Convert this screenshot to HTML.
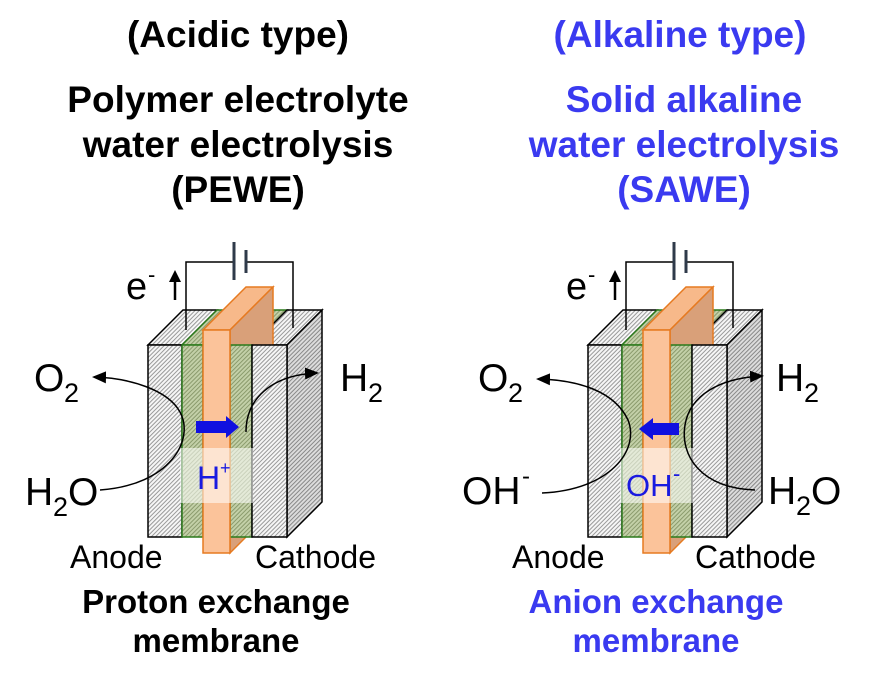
<!DOCTYPE html>
<html><head><meta charset="utf-8"><style>
html,body{margin:0;padding:0;background:#fff;}
svg{display:block;}
text{font-family:"Liberation Sans",Arial,sans-serif;}
.t{font-weight:bold;font-size:37px;text-anchor:middle;}
.b{font-weight:bold;font-size:33px;text-anchor:middle;}
.lb{font-size:32px;}
.big{font-size:39px;}
.sub{font-size:27px;}
</style></head><body>
<svg width="872" height="683" viewBox="0 0 872 683" xmlns="http://www.w3.org/2000/svg">
<defs>
<pattern id="h" width="3" height="3" patternUnits="userSpaceOnUse" patternTransform="rotate(45)">
<rect width="3" height="3" fill="#f6f6f6"/><rect width="1" height="3" fill="#999"/></pattern>
<pattern id="hd" width="3" height="3" patternUnits="userSpaceOnUse" patternTransform="rotate(45)">
<rect width="3" height="3" fill="#dcdcdc"/><rect width="1" height="3" fill="#888"/></pattern>
<pattern id="g" width="3" height="3" patternUnits="userSpaceOnUse" patternTransform="rotate(45)">
<rect width="3" height="3" fill="#c3d0a8"/><rect width="1" height="3" fill="#8a9a6c"/></pattern>
<marker id="ar" markerWidth="14" markerHeight="14" refX="12" refY="7" orient="auto" markerUnits="userSpaceOnUse">
<path d="M0,1 L14,7 L0,13 z" fill="#000"/></marker>
<g id="cell">
<polygon points="148,345 182,345 217,310 183,310" fill="url(#h)" stroke="#000" stroke-width="1.5"/>
<polygon points="182,345 203,345 238,310 217,310" fill="url(#g)" stroke="#2a7a1a" stroke-width="1.5"/>
<polygon points="230,345 252,345 287,310 265,310" fill="url(#g)" stroke="#2a7a1a" stroke-width="1.5"/>
<polygon points="252,345 287,345 322,310 287,310" fill="url(#h)" stroke="#000" stroke-width="1.5"/>
<polygon points="287,345 322,310 322,502 287,537" fill="url(#hd)" stroke="#000" stroke-width="1.5"/>
<polyline points="186,330 186,262 233,262" fill="none" stroke="#000" stroke-width="1.5"/>
<polyline points="247,262 293,262 293,328" fill="none" stroke="#000" stroke-width="1.5"/>
<line x1="234" y1="242" x2="234" y2="280" stroke="#2f3a4a" stroke-width="3"/>
<line x1="246" y1="250" x2="246" y2="273" stroke="#2f3a4a" stroke-width="3"/>
<polygon points="203,330 230,330 273,287 246,287" fill="#f7b98a" stroke="#e67a20" stroke-width="1.5"/>
<polygon points="230,330 273,287 273,510 230,553" fill="#d9a079" stroke="#e67a20" stroke-width="1.5"/>
<rect x="230" y="345" width="22" height="192" fill="url(#g)" stroke="#2a7a1a" stroke-width="1.5"/>
<rect x="252" y="345" width="35" height="192" fill="url(#h)" stroke="#000" stroke-width="1.5"/>
<rect x="148" y="345" width="34" height="192" fill="url(#h)" stroke="#000" stroke-width="1.5"/>
<rect x="182" y="345" width="21" height="192" fill="url(#g)" stroke="#2a7a1a" stroke-width="1.5"/>
<rect x="203" y="330" width="27" height="223" fill="#fbc39a" stroke="#e67a20" stroke-width="1.5"/>
<rect x="180" y="448" width="73" height="55" fill="#fff" fill-opacity="0.55"/>
<text x="126" y="299" font-size="38">e</text><text x="148" y="282" font-size="22">-</text>
<line x1="175" y1="300" x2="175" y2="278" stroke="#000" stroke-width="2.5"/>
<path d="M169,282 L175,270 L181,282 z" fill="#000"/>
</g>
</defs>

<text class="t" x="238" y="47">(Acidic type)</text>
<text class="t" x="238" y="112">Polymer electrolyte</text>
<text class="t" x="238" y="157">water electrolysis</text>
<text class="t" x="238" y="202">(PEWE)</text>
<g fill="#3a3af0">
<text class="t" x="680" y="47">(Alkaline type)</text>
<text class="t" x="684" y="112">Solid alkaline</text>
<text class="t" x="684" y="157">water electrolysis</text>
<text class="t" x="684" y="202">(SAWE)</text>
</g>

<use href="#cell"/>
<use href="#cell" x="440"/>

<path d="M100,490 C170,485 195,440 180,412 C168,390 130,378 94,377" fill="none" stroke="#000" stroke-width="1.5" marker-end="url(#ar)"/>
<path d="M246,432 C246,400 270,375 317,373" fill="none" stroke="#000" stroke-width="1.5" marker-end="url(#ar)"/>
<path d="M196,421 H226 V416 L239,427 L226,438 V433 H196 z" fill="#1010e0"/>
<text x="197" y="489" font-size="32" fill="#1a1ae0">H</text><text x="220" y="474" font-size="18" fill="#1a1ae0">+</text>
<text x="34" y="391" class="big">O</text><text x="64" y="402" class="sub">2</text>
<text x="340" y="391" class="big">H</text><text x="368" y="402" class="sub">2</text>
<text x="25" y="505" class="big">H</text><text x="53" y="516" class="sub">2</text><text x="68" y="505" class="big">O</text>
<text x="70" y="568" class="lb">Anode</text>
<text x="255" y="568" class="lb">Cathode</text>
<text class="b" x="216" y="613">Proton exchange</text>
<text class="b" x="216" y="652">membrane</text>

<path d="M542,493 C610,490 640,450 628,420 C615,392 580,380 538,379" fill="none" stroke="#000" stroke-width="1.5" marker-end="url(#ar)"/>
<path d="M755,490 C700,488 680,455 685,425 C690,395 720,378 762,376" fill="none" stroke="#000" stroke-width="1.5" marker-end="url(#ar)"/>
<path d="M679,423 H653 V418 L639,429 L653,440 V435 H679 z" fill="#1010e0"/>
<text x="626" y="496" font-size="31" fill="#1a1ae0">OH</text><text x="673" y="481" font-size="22" fill="#1a1ae0">-</text>
<text x="478" y="391" class="big">O</text><text x="508" y="402" class="sub">2</text>
<text x="776" y="391" class="big">H</text><text x="804" y="402" class="sub">2</text>
<text x="462" y="504" class="big">OH</text><text x="522" y="484" font-size="24">-</text>
<text x="768" y="504" class="big">H</text><text x="796" y="515" class="sub">2</text><text x="811" y="504" class="big">O</text>
<text x="512" y="568" class="lb">Anode</text>
<text x="695" y="568" class="lb">Cathode</text>
<g fill="#3a3af0">
<text class="b" x="656" y="613">Anion exchange</text>
<text class="b" x="656" y="652">membrane</text>
</g>
</svg>
</body></html>
